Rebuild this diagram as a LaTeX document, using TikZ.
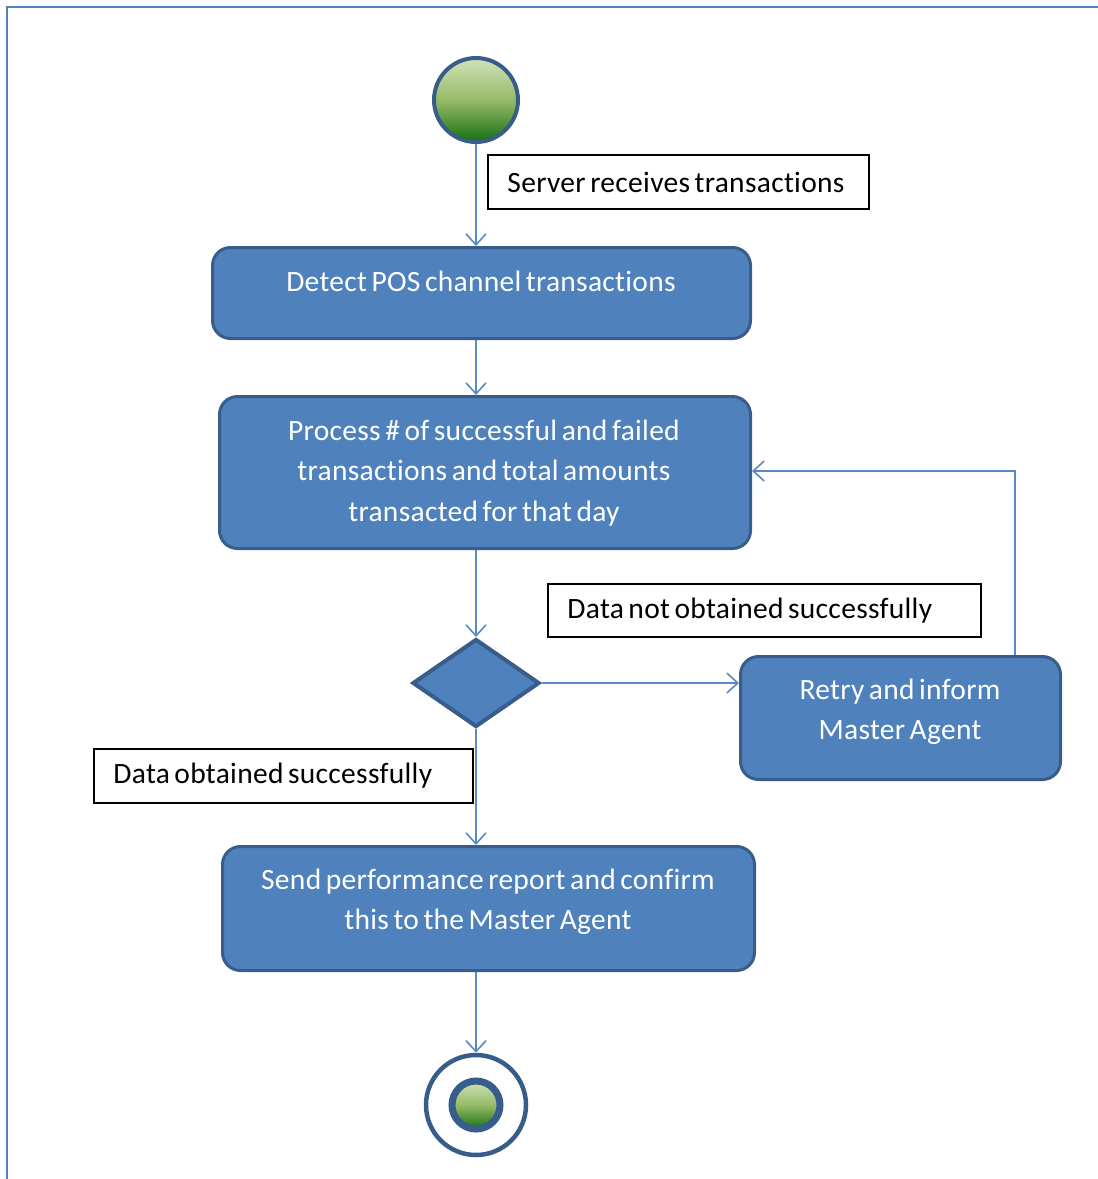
\documentclass[tikz,border=0pt]{standalone}
\usepackage{fontspec}
\setmainfont{Carlito}[Ligatures=NoCommon, WordSpace=0.65, LetterSpace=1]
\usetikzlibrary{shapes.geometric,arrows.meta}
\definecolor{actfill}{RGB}{79,129,189}
\definecolor{actedge}{RGB}{56,93,138}
\definecolor{flowline}{RGB}{88,138,198}
\definecolor{greentop}{RGB}{208,226,184}
\definecolor{greenmid}{RGB}{150,186,104}
\definecolor{greenbot}{RGB}{22,112,18}
\newcommand{\diagfont}{\fontsize{29.5}{40.5}\selectfont}
\tikzset{
  activity/.style={rectangle, rounded corners=18pt, draw=actedge, line width=3pt,
    fill=actfill, inner sep=0pt},
  acttext/.style={text=white, align=center, inner sep=0pt, font=\diagfont},
  guardbox/.style={rectangle, draw=black, line width=1.5pt, fill=white, inner sep=0pt},
  guardtext/.style={anchor=west, inner sep=0pt, font=\diagfont, text=black},
  decision/.style={diamond, draw=actedge, line width=4pt, fill=actfill, inner sep=0pt},
  flow/.style={draw=flowline, line width=1.6pt,
    -{Straight Barb[length=11pt, width=20pt, line width=1.6pt]}},
}
\begin{document}
\begin{tikzpicture}[x=1pt, y=-1pt]
\useasboundingbox (0,0) rectangle (1098,1179);
% page frame
\draw[draw=actfill, line width=2.5pt] (7,1179) -- (7,7) -- (1098,7);

% initial state
\node[circle, minimum size=84pt, inner sep=0pt, draw=actedge, line width=4pt,
  top color=greentop, bottom color=greenbot, middle color=greenmid] (start) at (476,100) {};

% activities
\node[activity, minimum width=538pt, minimum height=91pt] (detect) at (481.5,293) {};
\node[acttext] (detecttxt) at (481,281) {Detect POS channel transactions};

\node[activity, minimum width=531pt, minimum height=152pt] (process) at (485,472.5) {};
\node[acttext] (processtxt) at (484,473) {Process \# of successful and failed\\transactions and total amounts\\transacted for that day};

\node[decision, minimum width=127pt, minimum height=88pt] (dec) at (476,683) {};

\node[activity, minimum width=320pt, minimum height=123pt] (retry) at (900.5,718) {};
\node[acttext] (retrytxt) at (900,712) {Retry and inform\\Master Agent};

\node[activity, minimum width=532pt, minimum height=124pt] (send) at (488.5,908.5) {};
\node[acttext] (sendtxt) at (488,902) {Send performance report and confirm\\this to the Master Agent};

% final state
\node[circle, minimum size=100pt, inner sep=0pt, draw=actedge, line width=4.5pt, fill=white] (finish) at (476,1105) {};
\node[circle, minimum size=48pt, inner sep=0pt, draw=actedge, line width=7pt,
  top color=greentop, bottom color=greenbot, middle color=greenmid] (finishdot) at (476,1105) {};

% guard labels (left-aligned text in plain boxes)
\node[guardbox, minimum width=381pt, minimum height=54pt] (g1) at (678.5,182) {};
\node[guardtext] (g1txt) at ([xshift=20pt]g1.west) {Server receives transactions};
\node[guardbox, minimum width=433pt, minimum height=53pt] (g2) at (764.5,610.5) {};
\node[guardtext] (g2txt) at ([xshift=20pt]g2.west) {Data not obtained successfully};
\node[guardbox, minimum width=379pt, minimum height=54pt] (g3) at (283.5,776) {};
\node[guardtext] (g3txt) at ([xshift=20pt]g3.west) {Data obtained successfully};

% control flows
\coordinate (spine) at (476,0);
\coordinate (loopx) at (1015,0);
\path[flow] (start.south) -- (spine |- detect.north);
\path[flow] (spine |- detect.south) -- (spine |- process.north);
\path[flow] (spine |- process.south) -- (dec.north);
\path[flow] (dec.east) -- (dec.east -| retry.west);
\path[flow] (loopx |- retry.north) -- (loopx |- 0,471) -- (process.east |- 0,471);
\path[flow] (dec.south) -- (spine |- send.north);
\path[flow] (spine |- send.south) -- (finish.north);
\end{tikzpicture}
\end{document}
